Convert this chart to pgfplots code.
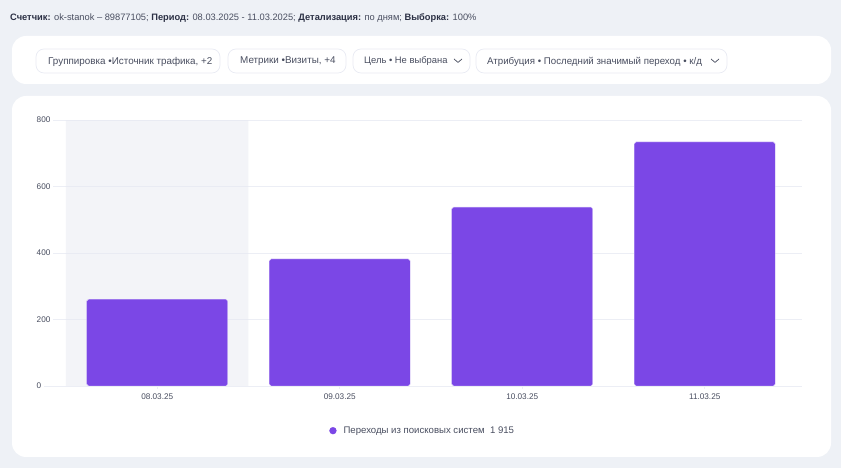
\documentclass[border=0pt]{standalone}
\usepackage{pgfplots}
\pgfplotsset{compat=1.18}
\usepackage{fontspec}
\setmainfont{Liberation Sans}
\definecolor{pagebg}{HTML}{EEF1F6}
\definecolor{gridc}{HTML}{ECEEF5}
\definecolor{pillb}{HTML}{E9EBF3}
\definecolor{txt}{HTML}{494E60}
\definecolor{dark}{HTML}{2B3044}
\definecolor{barc}{HTML}{7B47E6}
\definecolor{bande}{HTML}{E8EAF2}
\newcommand{\pill}[5]{%
  \draw[pillb,fill=white,line width=0.7pt,rounded corners=8pt] (#1,49) rectangle (#2,73);
  \node[anchor=west,inner sep=0pt,text=txt,font=\fontsize{#4}{12}\selectfont] at (#3,61.5) {#5};}
\newcommand{\chev}[1]{%
  \draw[txt,line width=0.7pt] (#1,59) -- ++(4,3.4) -- ++(4,-3.4);}
\begin{document}
\begin{tikzpicture}
\useasboundingbox (0,0) rectangle (841pt,468pt);
\fill[pagebg] (0,0) rectangle (841pt,468pt);
\begin{scope}[x=1pt,y=-1pt,shift={(0pt,468pt)}]
\fill[white,rounded corners=14pt] (12,36) rectangle (831,84);
\fill[white,rounded corners=14pt] (12,96) rectangle (831,457);
\node[anchor=west,inner sep=0pt,text=dark,font=\fontsize{9.3}{11}\selectfont] at (10,18)
 {\textbf{Счетчик:} \textcolor{txt}{ok-stanok – 89877105;} \textbf{Период:} \textcolor{txt}{08.03.2025 - 11.03.2025;} \textbf{Детализация:} \textcolor{txt}{по дням;} \textbf{Выборка:} \textcolor{txt}{100\%}};
\pill{36}{220}{48}{9.85}{Группировка •Источник трафика, +2}
\pill{228}{346}{240}{9.85}{Метрики •Визиты, +4}
\pill{353}{470}{364}{9.4}{Цель • Не выбрана}
\pill{476}{727}{487}{9.7}{Атрибуция • Последний значимый переход • к/д}
\chev{454}
\chev{711}
\end{scope}
\begin{axis}[
  at={(53pt,82pt)},anchor=south west,
  scale only axis,width=749pt,height=266pt,
  xmin=-0.571,xmax=3.533,ymin=0,ymax=800,
  ytick={0,200,400,600,800},
  xtick={0,1,2,3},
  xticklabels={08.03.25,09.03.25,10.03.25,11.03.25},
  ymajorgrids,
  grid style={gridc,line width=0.6pt},
  axis line style={draw=none},
  axis x line*=bottom,axis y line*=left,
  x axis line style={draw=gridc,line width=0.8pt,-},
  y axis line style={draw=none},
  tick style={draw=none},
  xtick style={draw=gridc,line width=0.5pt},
  x tick style={draw=gridc},
  major tick length=3pt,
  tick align=outside,
  /pgf/number format/assume math mode=true,
  tick label style={font=\fontsize{8.2}{10}\selectfont,text=txt},
  yticklabel style={anchor=west,xshift=-13.5pt,inner sep=0pt},
  xticklabel style={yshift=-1.5pt},
  legend style={at={(0.3687,-0.168)},anchor=west,draw=none,fill=none,
    font=\fontsize{9.6}{12}\selectfont,text=txt,inner sep=0pt,
    /tikz/every even column/.append style={column sep=0pt}},
  legend cell align=left,
  legend image code/.code={\fill[barc] (0.12cm,0) circle (3.4pt);},
]
\addplot[fill=bande,fill opacity=0.5,draw=none,forget plot] coordinates {(-0.5,0)(-0.5,800)(0.5,800)(0.5,0)} \closedcycle;
\addplot[ybar,bar width=141pt,fill=barc,draw=barc!25,line width=0.4pt,rounded corners=1.8pt]
  coordinates {(0,261)(1,382)(2,538)(3,734)};
\addlegendentry{\hspace{5pt}Переходы из поисковых систем\ \ 1 915}
\end{axis}
\begin{scope}[x=1pt,y=-1pt,shift={(0pt,468pt)}]
\draw[gridc,line width=0.8pt] (44,386) -- (53,386);
\end{scope}
\end{tikzpicture}
\end{document}
